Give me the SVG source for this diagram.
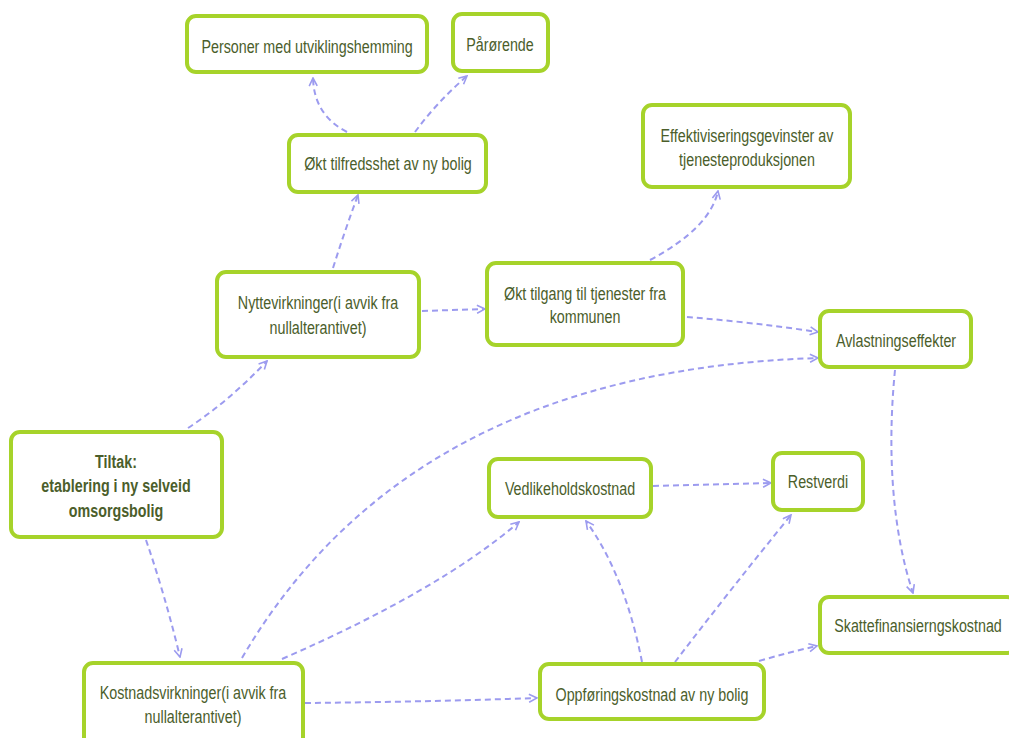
<svg xmlns="http://www.w3.org/2000/svg" width="1009" height="738" viewBox="0 0 1009 738">
<defs>
<style>
.box{fill:#ffffff;stroke:#a6d32a;stroke-width:4}
.t{font-family:"Liberation Sans",Arial,sans-serif;font-size:18.5px;fill:#4b5e2b;text-anchor:middle}
.b{font-weight:bold}
.c{fill:none;stroke:#9c9bef;stroke-width:2;stroke-dasharray:6 4;marker-end:url(#ah)}
</style>
<marker id="ah" viewBox="0 0 10 10" refX="9" refY="5" markerWidth="10" markerHeight="10" markerUnits="userSpaceOnUse" orient="auto">
<path d="M1,1 L9,5 L1,9" fill="none" stroke="#9c9bef" stroke-width="1.6"/>
</marker>
</defs>
<rect width="1009" height="738" fill="#ffffff"/>
<g id="connectors">
<path class="c" d="M347,132 Q314,115 313,78"/>
<path class="c" d="M415,132 Q437,102 467,76"/>
<path class="c" d="M333,268 Q345,230 358,195"/>
<path class="c" d="M422,311 L485,309"/>
<path class="c" d="M188,428 Q228,402 267,361"/>
<path class="c" d="M650,260 Q710,228 718,191"/>
<path class="c" d="M687,317 Q750,322 818,332"/>
<path class="c" d="M242,658 Q410,371 818,358"/>
<path class="c" d="M282,659 Q440,590 519,522"/>
<path class="c" d="M895,370 C887,450 892,530 913,593"/>
<path class="c" d="M146,540 Q165,595 180,657"/>
<path class="c" d="M305,703 Q420,702 537,698"/>
<path class="c" d="M653,486 L771,483"/>
<path class="c" d="M642,662 Q625,575 586,521"/>
<path class="c" d="M675,662 Q730,590 791,515"/>
<path class="c" d="M759,661 Q790,652 817,646"/>
</g>
<g id="n-personer"><rect class="box" x="187" y="16" width="240" height="56" rx="9"/><text class="t" transform="translate(307,53) scale(0.773,1)">Personer med utviklingshemming</text></g>
<g id="n-parorende"><rect class="box" x="453" y="14" width="95" height="57" rx="9"/><text class="t" transform="translate(500,51) scale(0.773,1)">Pårørende</text></g>
<g id="n-tilfredsshet"><rect class="box" x="289" y="135" width="197" height="57" rx="9"/><text class="t" transform="translate(388,170) scale(0.773,1)">Økt tilfredsshet av ny bolig</text></g>
<g id="n-effektiv"><rect class="box" x="643" y="105" width="207" height="82" rx="9"/><text class="t" transform="translate(747,142) scale(0.773,1)">Effektiviseringsgevinster av</text><text class="t" transform="translate(747,166) scale(0.773,1)">tjenesteproduksjonen</text></g>
<g id="n-nytte"><rect class="box" x="217" y="272" width="202" height="85" rx="9"/><text class="t" transform="translate(318,309) scale(0.773,1)">Nyttevirkninger(i avvik fra</text><text class="t" transform="translate(318,334) scale(0.773,1)">nullalterantivet)</text></g>
<g id="n-tilgang"><rect class="box" x="487" y="263" width="196" height="82" rx="9"/><text class="t" transform="translate(585,300) scale(0.773,1)">Økt tilgang til tjenester fra</text><text class="t" transform="translate(585,323) scale(0.773,1)">kommunen</text></g>
<g id="n-avlastning"><rect class="box" x="820" y="311" width="151" height="56" rx="9"/><text class="t" transform="translate(896,347) scale(0.773,1)">Avlastningseffekter</text></g>
<g id="n-tiltak"><rect class="box" x="11" y="432" width="211" height="105" rx="9"/><text class="t b" transform="translate(116,468) scale(0.773,1)">Tiltak:</text><text class="t b" transform="translate(116,492) scale(0.773,1)">etablering i ny selveid</text><text class="t b" transform="translate(116,517) scale(0.773,1)">omsorgsbolig</text></g>
<g id="n-vedlikehold"><rect class="box" x="489" y="459" width="162" height="58" rx="9"/><text class="t" transform="translate(570,495) scale(0.773,1)">Vedlikeholdskostnad</text></g>
<g id="n-restverdi"><rect class="box" x="773" y="453" width="90" height="57" rx="9"/><text class="t" transform="translate(818,488) scale(0.773,1)">Restverdi</text></g>
<g id="n-skatte"><rect class="box" x="820" y="597" width="196" height="56" rx="9"/><text class="t" transform="translate(918,632) scale(0.773,1)">Skattefinansierngskostnad</text></g>
<g id="n-kostnad"><rect class="box" x="84" y="663" width="219" height="84" rx="9"/><text class="t" transform="translate(193,699) scale(0.773,1)">Kostnadsvirkninger(i avvik fra</text><text class="t" transform="translate(193,723) scale(0.773,1)">nullalterantivet)</text></g>
<g id="n-oppforing"><rect class="box" x="540" y="664" width="224" height="55" rx="9"/><text class="t" transform="translate(652,701) scale(0.773,1)">Oppføringskostnad av ny bolig</text></g>
</svg>
